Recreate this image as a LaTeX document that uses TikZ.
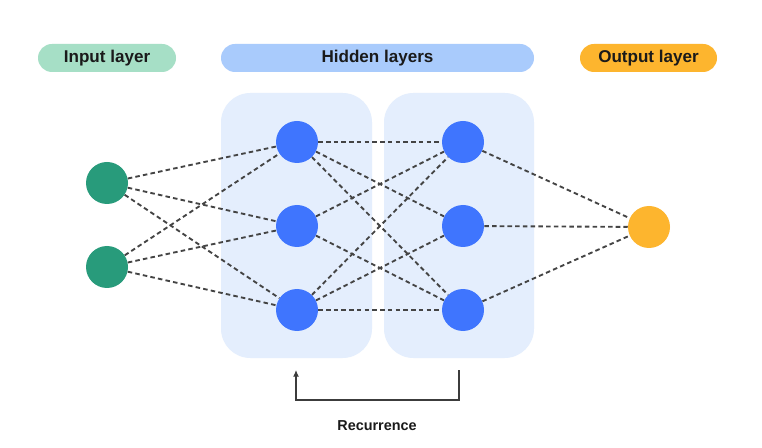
\documentclass[tikz,border=0pt]{standalone}
\usepackage{fontspec}
\setmainfont{Liberation Sans}
\usetikzlibrary{arrows.meta}
\definecolor{ingreen}{HTML}{289B7B}
\definecolor{inpill}{HTML}{A6DFC6}
\definecolor{hidpill}{HTML}{A9CBFC}
\definecolor{hidbox}{HTML}{E4EEFD}
\definecolor{hidnode}{HTML}{3F75FE}
\definecolor{outnode}{HTML}{FDB52E}
\definecolor{edgecol}{HTML}{444444}
\definecolor{txt}{HTML}{1A1A1A}
\begin{document}
\begin{tikzpicture}[x=0.75pt,y=-0.75pt,
  pill/.style={rounded corners=10.5pt, minimum height=21pt, inner sep=0pt, text=txt, font=\fontsize{12.8}{14}\selectfont\bfseries},
  neuron/.style={circle, minimum size=31.5pt, inner sep=0pt},
  layerbox/.style={fill=hidbox, rounded corners=22pt, inner sep=0pt},
  link/.style={draw=edgecol, line width=1.4pt, dash pattern=on 3.4pt off 2.4pt}
]
\useasboundingbox (0,0) rectangle (762,448);
\fill[white] (0,0) rectangle (762,448);
% pills
\node[pill, fill=inpill, minimum width=103.5pt] (pin) at (107,58) {Input layer};
\node[pill, fill=hidpill, minimum width=234.75pt] (phid) at (377.5,58) {Hidden layers};
\node[pill, fill=outnode, minimum width=102.75pt] (pout) at (648.5,58) {Output layer};
% boxes
\node[layerbox, minimum width=113.25pt, minimum height=198.75pt] (box1) at (296.5,225.5) {};
\node[layerbox, minimum width=112.5pt, minimum height=198.75pt] (box2) at (459,225.5) {};
% neurons
\node[neuron, fill=ingreen] (i1) at (107,183) {};
\node[neuron, fill=ingreen] (i2) at (107,267) {};
\node[neuron, fill=hidnode] (a1) at (297,142) {};
\node[neuron, fill=hidnode] (a2) at (297,226) {};
\node[neuron, fill=hidnode] (a3) at (297,310) {};
\node[neuron, fill=hidnode] (b1) at (463,142) {};
\node[neuron, fill=hidnode] (b2) at (463,226) {};
\node[neuron, fill=hidnode] (b3) at (463,310) {};
\node[neuron, fill=outnode] (o) at (649,227) {};
% links
\foreach \s in {i1,i2}{\foreach \t in {a1,a2,a3}{\draw[link] (\s) -- (\t);}}
\foreach \s/\t in {a1/b1,a1/b2,a1/b3,a2/b1,a2/b3,a3/b1,a3/b2,a3/b3}{\draw[link] (\s) -- (\t);}
\foreach \s in {b1,b2,b3}{\draw[link] (\s) -- (o);}
% recurrence
\coordinate (rs) at (459,370);
\coordinate (re) at (296,370);
\draw[draw=txt!85, line width=0.9pt, -{Latex[length=5pt,width=4.5pt]}] (rs) -- (459,400) -- (296,400) -- (re);
\node[text=txt, font=\fontsize{10.8}{12}\selectfont\bfseries] (rec) at (377,426) {Recurrence};
\end{tikzpicture}
\end{document}
